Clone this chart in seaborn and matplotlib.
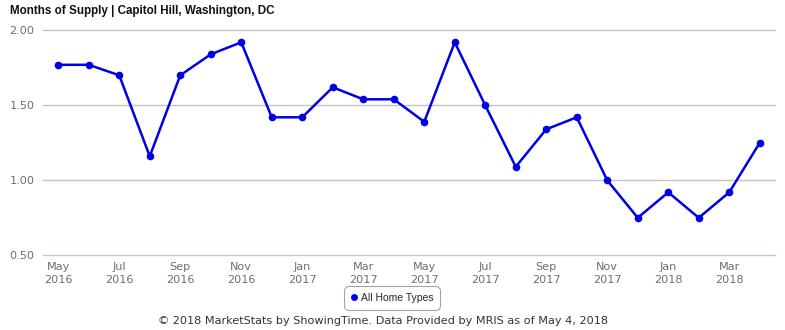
import matplotlib
matplotlib.use("Agg")
import matplotlib.pyplot as plt
from matplotlib.lines import Line2D
import seaborn as sns
import pandas as pd

months = ["May 2016", "Jun 2016", "Jul 2016", "Aug 2016", "Sep 2016", "Oct 2016",
          "Nov 2016", "Dec 2016", "Jan 2017", "Feb 2017", "Mar 2017", "Apr 2017",
          "May 2017", "Jun 2017", "Jul 2017", "Aug 2017", "Sep 2017", "Oct 2017",
          "Nov 2017", "Dec 2017", "Jan 2018", "Feb 2018", "Mar 2018", "Apr 2018"]
supply = [1.77, 1.77, 1.70, 1.16, 1.70, 1.84,
          1.92, 1.42, 1.42, 1.62, 1.54, 1.54,
          1.39, 1.92, 1.50, 1.09, 1.34, 1.42,
          1.00, 0.75, 0.92, 0.75, 0.92, 1.25]
series_name = "All Home Types"
tick_labels = ["May\n2016", "Jul\n2016", "Sep\n2016", "Nov\n2016", "Jan\n2017", "Mar\n2017",
               "May\n2017", "Jul\n2017", "Sep\n2017", "Nov\n2017", "Jan\n2018", "Mar\n2018"]
y_ticks = [0.50, 1.00, 1.50, 2.00]

df = pd.DataFrame({"idx": range(len(months)), "month": months,
                   "value": supply, "series": series_name})

sns.set_style("white")
plt.rcParams["font.family"] = ["DejaVu Sans"]

fig = plt.figure(figsize=(7.85, 3.30), dpi=100)
ax = fig.add_axes([43 / 785, 1 - 255.3 / 330, (775 - 43) / 785, (255.3 - 30.3) / 330])

line_color = "#0000e6"
sns.lineplot(data=df, x="idx", y="value", hue="series", palette=[line_color],
             marker="o", markersize=5.5, markeredgewidth=0, linewidth=1.8,
             ax=ax, legend=False, zorder=3)

ax.set_xlim(-0.5, len(months) - 0.5)
ax.set_ylim(0.5, 2.0)
ax.set_yticks(y_ticks)
ax.set_yticklabels([f"{v:.2f}" for v in y_ticks])
ax.set_xticks(range(0, len(months), 2))
ax.set_xticklabels(tick_labels, linespacing=1.4)
ax.set_xlabel("")
ax.set_ylabel("")

for v in y_ticks:
    ax.axhline(v, color="#c4c4c4" if v > 0.5 else "#bccadc", linewidth=1.0,
               zorder=1, clip_on=False)
for s in ax.spines.values():
    s.set_visible(False)

ax.tick_params(axis="both", length=0, colors="#6e6e6e", labelsize=8.1)
ax.tick_params(axis="y", pad=6)
ax.tick_params(axis="x", pad=4.5)

fig.text(10 / 785, 1 - 11 / 330, "Months of Supply | Capitol Hill, Washington, DC",
         fontsize=8.4, fontweight="bold", family="Liberation Sans", color="#111111",
         ha="left", va="center")

handle = Line2D([], [], linestyle="none", marker="o", markersize=5,
                markerfacecolor=line_color, markeredgewidth=0)
leg = fig.legend([handle], [series_name], loc="center",
                 bbox_to_anchor=(392 / 785, 1 - 298 / 330),
                 frameon=True, fancybox=True, edgecolor="#8c8c8c",
                 prop={"family": "Liberation Sans", "size": 7.5},
                 handlelength=0.6, handletextpad=0.4, borderpad=0.45,
                 borderaxespad=0)
leg.get_frame().set_linewidth(0.8)
leg.get_frame().set_boxstyle("round,pad=0.2,rounding_size=0.5")

fig.text(383 / 785, 1 - 321 / 330,
         "\u00a9 2018 MarketStats by ShowingTime. Data Provided by MRIS as of May 4, 2018",
         fontsize=8.15, color="#333333", ha="center", va="center")

fig.savefig("out.png", dpi=100)
